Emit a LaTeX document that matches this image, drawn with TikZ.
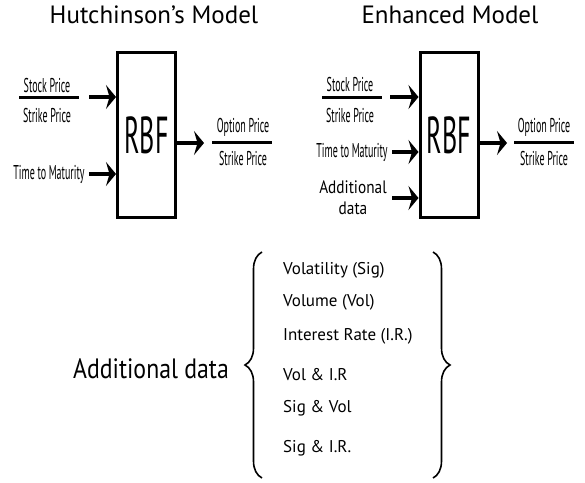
\documentclass[tikz,border=0pt]{standalone}
\usepackage{fontspec}
\setmainfont{PT Sans}
\newfontfamily\narrowfont[FakeStretch=0.5]{PT Sans}
\newfontfamily\semifont[FakeStretch=0.85]{PT Sans}
\usetikzlibrary{arrows.meta,decorations.pathreplacing}
\begin{document}
\begin{tikzpicture}[x=1pt,y=-1pt,
  rbf/.style={draw,line width=3pt,minimum width=58pt,minimum height=165pt,inner sep=0pt,font=\narrowfont\fontsize{52}{54}\selectfont},
  lbl/.style={inner sep=0pt,font=\narrowfont\fontsize{20}{22}\selectfont},
  title/.style={inner sep=0pt,font=\fontsize{25}{28}\selectfont},
  item/.style={inner sep=0pt,anchor=west,font=\fontsize{17}{19}\selectfont},
  arr/.style={line width=4.5pt,-{Stealth[length=10pt,width=24pt,inset=3.5pt]}},
  bar/.style={line width=3pt},
  brc/.style={line width=1.6pt,decorate,decoration={brace,amplitude=17pt}}]
\useasboundingbox (0,0) rectangle (585,482);
% Hutchinson's model
\node[title](t1) at (154,15) {Hutchinson’s Model};
\node[rbf](b1) at (146.5,135) {RBF};
\node[lbl](sp1) at (47,85) {Stock Price};
\node[lbl](kp1) at (47,115) {Strike Price};
\draw[bar](19,97)--(79,97);
\node[lbl](tm1) at (49,174) {Time to Maturity};
\coordinate(a1) at (89,97);
\coordinate(a2) at (89,174);
\draw[arr](a1)--(b1.west|-a1);
\draw[arr](a2)--(b1.west|-a2);
\coordinate(o1) at (204,143);
\draw[arr](b1.east|-o1)--(o1);
\node[lbl](op1) at (243,127) {Option Price};
\node[lbl](ok1) at (243,158) {Strike Price};
\draw[bar](212,142)--(272,142);
% Enhanced model
\node[title](t2) at (450,15) {Enhanced Model};
\node[rbf](b2) at (449,135) {RBF};
\node[lbl](sp2) at (350,84) {Stock Price};
\node[lbl](kp2) at (350,115) {Strike Price};
\draw[bar](322,97)--(382,97);
\node[lbl](tm2) at (352,152) {Time to Maturity};
\node[inner sep=0pt,align=center,font=\semifont\fontsize{18}{21}\selectfont](ad2) at (353,198) {Additional\\data};
\coordinate(a3) at (390,97);
\coordinate(a4) at (392,152);
\coordinate(a5) at (392,198);
\draw[arr](a3)--(b2.west|-a3);
\draw[arr](a4)--(b2.west|-a4);
\draw[arr](a5)--(b2.west|-a5);
\coordinate(o2) at (507,143);
\draw[arr](b2.east|-o2)--(o2);
\node[lbl](op2) at (544,127) {Option Price};
\node[lbl](ok2) at (544,158) {Strike Price};
\draw[bar](514,142)--(574,142);
% additional data
\node[inner sep=0pt,font=\semifont\fontsize{28}{30}\selectfont](ad) at (151,369) {Additional data};
\draw[brc](262,478)--(262,252);
\draw[brc](433,252)--(433,478);
\node[item](i1) at (283,270) {Volatility (Sig)};
\node[item](i2) at (283,302) {Volume (Vol)};
\node[item](i3) at (283,336) {Interest Rate (I.R.)};
\node[item](i4) at (283,375) {Vol \& I.R};
\node[item](i5) at (283,408) {Sig \& Vol};
\node[item](i6) at (283,448) {Sig \& I.R.};
\end{tikzpicture}
\end{document}
